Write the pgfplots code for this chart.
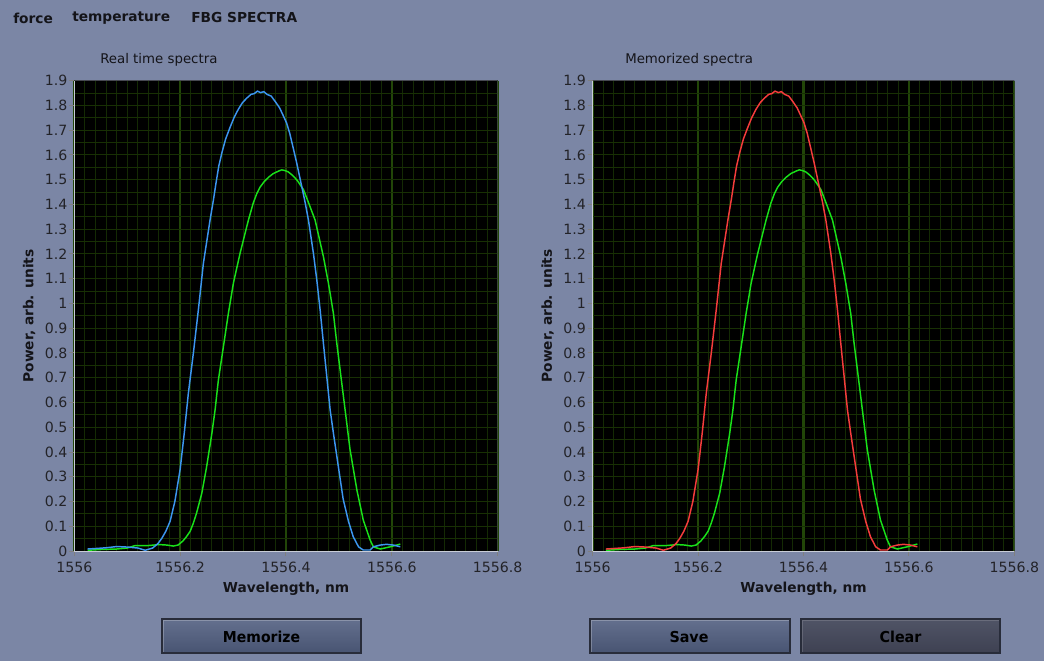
\documentclass[border=0pt]{standalone}
\usepackage{pgfplots}
\pgfplotsset{compat=1.18}
\usepackage{pgfplotstable}
\usepackage{fontspec}
\setmainfont{DejaVu Sans}
\definecolor{bgcol}{RGB}{123,134,165}
\definecolor{txt}{RGB}{20,20,25}
\definecolor{tick}{RGB}{35,35,40}
\definecolor{gmin}{RGB}{20,42,4}
\definecolor{gminy}{RGB}{24,48,4}
\definecolor{gmaj}{RGB}{34,70,8}
\definecolor{cblue}{RGB}{60,150,240}
\definecolor{cgreen}{RGB}{25,225,25}
\definecolor{cred}{RGB}{245,60,60}
\definecolor{btntop}{RGB}{100,112,142}
\definecolor{btnbot}{RGB}{72,84,114}
\definecolor{clrtop}{RGB}{80,84,102}
\definecolor{clrbot}{RGB}{62,65,82}
\definecolor{btnedge}{RGB}{40,44,58}
\definecolor{axline}{RGB}{200,204,215}
\definecolor{axtop}{RGB}{70,72,80}

\pgfplotstableread{
x y
1556.025 0.008
1556.04 0.010
1556.06 0.013
1556.08 0.018
1556.10 0.016
1556.12 0.012
1556.134 0.003
1556.148 0.012
1556.158 0.030
1556.165 0.050
1556.173 0.080
1556.181 0.120
1556.190 0.200
1556.200 0.330
1556.208 0.480
1556.2155 0.637
1556.225 0.800
1556.2344 0.974
1556.2439 1.162
1556.2565 1.337
1556.263 1.420
1556.268 1.490
1556.273 1.555
1556.279 1.610
1556.286 1.665
1556.294 1.710
1556.302 1.752
1556.310 1.785
1556.318 1.812
1556.326 1.830
1556.334 1.845
1556.340 1.848
1556.346 1.858
1556.352 1.852
1556.358 1.856
1556.364 1.845
1556.372 1.838
1556.380 1.815
1556.388 1.790
1556.395 1.758
1556.401 1.730
1556.407 1.688
1556.413 1.634
1556.420 1.570
1556.427 1.500
1556.436 1.410
1556.4424 1.337
1556.4518 1.203
1556.4582 1.095
1556.4645 0.974
1556.4707 0.839
1556.4771 0.704
1556.4834 0.570
1556.490 0.470
1556.499 0.340
1556.508 0.210
1556.518 0.120
1556.527 0.058
1556.537 0.017
1556.546 0.004
1556.559 0.004
1556.565 0.017
1556.578 0.024
1556.590 0.027
1556.603 0.024
1556.616 0.017
}\specA

\pgfplotstableread{
x y
1556.025 0.003
1556.05 0.006
1556.08 0.008
1556.10 0.012
1556.115 0.022
1556.14 0.022
1556.16 0.026
1556.175 0.024
1556.187 0.020
1556.196 0.024
1556.205 0.040
1556.212 0.058
1556.219 0.080
1556.225 0.113
1556.231 0.153
1556.241 0.234
1556.250 0.340
1556.260 0.476
1556.266 0.570
1556.2722 0.690
1556.2817 0.825
1556.2911 0.960
1556.3006 1.082
1556.3132 1.203
1556.329 1.337
1556.338 1.405
1556.345 1.445
1556.351 1.470
1556.359 1.493
1556.367 1.510
1556.376 1.525
1556.386 1.535
1556.392 1.540
1556.398 1.537
1556.404 1.532
1556.410 1.522
1556.416 1.510
1556.422 1.495
1556.433 1.460
1556.443 1.405
1556.455 1.337
1556.4707 1.189
1556.4802 1.082
1556.4896 0.960
1556.496 0.839
1556.5023 0.731
1556.5117 0.570
1556.521 0.410
1556.534 0.246
1556.546 0.125
1556.559 0.044
1556.565 0.017
1556.578 0.008
1556.597 0.017
1556.616 0.028
}\specB

\pgfplotsset{
  spec/.style={
    scale only axis, height=352.7pt,
    xmin=1556, xmax=1556.8, ymin=0, ymax=1.9,
    axis background/.style={fill=black},
    axis x line*=bottom, axis y line*=left,
    axis line style={draw=axline, line width=0.75pt, -},
    xtick={1556,1556.2,1556.4,1556.6,1556.8},
    xticklabels={1556,1556.2,1556.4,1556.6,1556.8},
    minor xtick={1556.02,1556.04,1556.06,1556.08,1556.10,1556.12,1556.14,1556.16,1556.18,
                 1556.22,1556.24,1556.26,1556.28,1556.30,1556.32,1556.34,1556.36,1556.38,
                 1556.42,1556.44,1556.46,1556.48,1556.50,1556.52,1556.54,1556.56,1556.58,
                 1556.62,1556.64,1556.66,1556.68,1556.70,1556.72,1556.74,1556.76,1556.78},
    ytick={0,0.1,0.2,0.3,0.4,0.5,0.6,0.7,0.8,0.9,1,1.1,1.2,1.3,1.4,1.5,1.6,1.7,1.8,1.9},
    yticklabels={0,0.1,0.2,0.3,0.4,0.5,0.6,0.7,0.8,0.9,1,1.1,1.2,1.3,1.4,1.5,1.6,1.7,1.8,1.9},
    minor ytick={0.05,0.15,0.25,0.35,0.45,0.55,0.65,0.75,0.85,0.95,1.05,1.15,1.25,1.35,1.45,1.55,1.65,1.75,1.85},
    grid=both,
    minor x grid style={gmin, line width=0.75pt},
    major x grid style={gmaj, line width=1.6pt},
    minor y grid style={gminy, line width=0.75pt},
    major y grid style={gminy, line width=0.75pt},
    tick align=outside, major tick length=3.75pt, minor tick length=0pt,
    tick style={tick, line width=0.75pt},
    ticklabel style={font=\fontsize{10.6}{12}\selectfont, text=tick},
    yticklabel style={inner xsep=1.2pt},
    xticklabel style={inner ysep=4pt},
    xlabel={\textbf{Wavelength, nm}},
    ylabel={\textbf{Power, arb. units}},
    label style={font=\fontsize{10.3}{12}\selectfont, text=txt},
    xlabel style={yshift=0pt},
    ylabel style={yshift=2.5pt},
  }
}

\begin{document}
\begin{tikzpicture}
\begin{scope}[x=0.75pt,y=0.75pt]
\fill[bgcol] (0,0) rectangle (1044,661);
\useasboundingbox (0,0) rectangle (1044,661);
% tabs
\node[anchor=west, font=\fontsize{10.3}{12}\selectfont\bfseries, text=txt, inner sep=0pt] at (13,643) {force};
\node[anchor=west, font=\fontsize{10.3}{12}\selectfont\bfseries, text=txt, inner sep=0pt] at (72,643) {temperature};
\node[anchor=west, font=\fontsize{10.3}{12}\selectfont\bfseries, text=txt, inner sep=0pt] at (191,643) {FBG SPECTRA};
% panel titles
\node[anchor=west, font=\fontsize{10}{12}\selectfont, text=txt, inner sep=0pt] at (100,601.5) {Real time spectra};
\node[anchor=west, font=\fontsize{10}{12}\selectfont, text=txt, inner sep=0pt] at (625,601.5) {Memorized spectra};
% buttons
\shade[top color=btntop, bottom color=btnbot, draw=btnedge, line width=1pt] (162,8) rectangle (361,42);
\shade[top color=btntop, bottom color=btnbot, draw=btnedge, line width=1pt] (590,8) rectangle (790,42);
\shade[top color=clrtop, bottom color=clrbot, draw=btnedge, line width=1pt] (801,8) rectangle (1000,42);
\draw[white, opacity=0.25, line width=0.75pt] (163.5,9.5) -- (163.5,40.5) -- (359.5,40.5);
\draw[white, opacity=0.25, line width=0.75pt] (591.5,9.5) -- (591.5,40.5) -- (788.5,40.5);
\draw[white, opacity=0.15, line width=0.75pt] (802.5,9.5) -- (802.5,40.5) -- (998.5,40.5);
\node[font=\fontsize{11.3}{12}\selectfont\bfseries, text=black] at (261.5,24) {\scalebox{0.93}[1]{Memorize}};
\node[font=\fontsize{11.3}{12}\selectfont\bfseries, text=black] at (689,24) {\scalebox{0.95}[1]{Save}};
\node[font=\fontsize{11.3}{12}\selectfont\bfseries, text=black] at (900.5,24) {\scalebox{0.95}[1]{Clear}};
\end{scope}

\begin{axis}[spec, width=317.55pt, at={(55.725pt,82.5pt)}, anchor=south west]
\draw[axtop, line width=0.75pt] (rel axis cs:0,1) -- (rel axis cs:1,1) -- (rel axis cs:1,0);
\addplot[cgreen, line width=1.1pt] table[x=x,y=y] {\specB};
\addplot[cblue, line width=1.1pt] table[x=x,y=y] {\specA};
\end{axis}

\begin{axis}[spec, width=316.2pt, at={(444.525pt,82.5pt)}, anchor=south west]
\draw[axtop, line width=0.75pt] (rel axis cs:0,1) -- (rel axis cs:1,1) -- (rel axis cs:1,0);
\addplot[cgreen, line width=1.1pt] table[x=x,y=y] {\specB};
\addplot[cred, line width=1.1pt] table[x=x,y=y] {\specA};
\end{axis}
\end{tikzpicture}
\end{document}
